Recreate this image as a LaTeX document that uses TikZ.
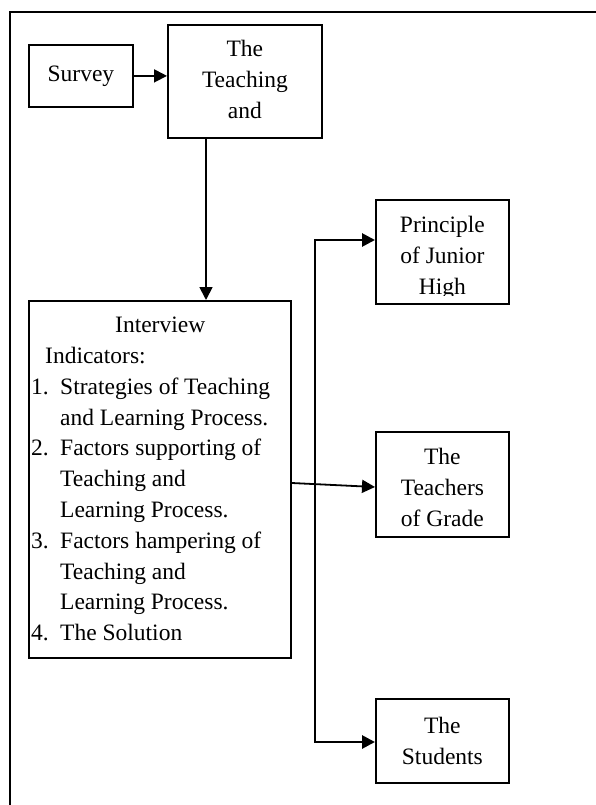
\documentclass[tikz,border=0pt]{standalone}
\usepackage{fontspec}
\setmainfont{Liberation Serif}
\usetikzlibrary{arrows.meta}
\begin{document}
\begin{tikzpicture}[x=1pt,y=-1pt,
 box/.style={draw,line width=1.8pt,inner sep=0pt,anchor=north west},
 lbl/.style={inner sep=0pt,align=center,font=\fontsize{23.5}{31}\selectfont},
 tip/.tip={Triangle[length=13pt,width=13pt]},
 arr/.style={line width=1.8pt,-tip},
 bus/.style={line width=2.8pt,tip-tip}]
\useasboundingbox (0,0) rectangle (596,805);
\coordinate (fbl) at (9.5,805);
\coordinate (ftl) at (9.5,12);
\coordinate (ftr) at (596,12);
\draw[line width=2pt] (fbl) -- (ftl) -- (ftr);
% boxes
\node[box,minimum width=104pt,minimum height=62pt,font=\fontsize{23.5}{31}\selectfont] (survey) at (28,44) {Survey};
\node[box,minimum width=154pt,minimum height=113pt] (teach) at (167,24) {};
\node[lbl,anchor=north] (teacht) at (teach.north |- 0,40) {The\\Teaching\\and};
\node[box,minimum width=133pt,minimum height=104pt] (principle) at (375,199) {};
\begin{scope}
\clip (principle.north west) rectangle ([yshift=9pt]principle.south east);
\node[lbl,anchor=north] (principlet) at (principle.north |- 0,216) {Principle\\of Junior\\High};
\end{scope}
\node[box,minimum width=133pt,minimum height=105pt] (teachers) at (375,431) {};
\begin{scope}
\clip (teachers.north west) rectangle ([yshift=10pt]teachers.south east);
\node[lbl,anchor=north] (teacherst) at (teachers.north |- 0,448) {The\\Teachers\\of Grade};
\end{scope}
\node[box,minimum width=133pt,minimum height=84pt] (students) at (375,698) {};
\node[lbl,anchor=north] (studentst) at (students.north |- 0,717) {The\\Students};
\node[box,minimum width=262pt,minimum height=357pt] (interview) at (28,300) {};
\node[inner sep=0pt,anchor=north west,font=\fontsize{23.5}{30.8}\selectfont] (interviewt) at (31,311)
 {\begin{tabular}{@{}p{29pt}@{}l@{}}
 \multicolumn{2}{@{}l@{}}{\hspace{84pt}Interview}\\
 \multicolumn{2}{@{}l@{}}{\hspace{14pt}Indicators:}\\
 1. & Strategies of Teaching\\
    & and Learning Process.\\
 2. & Factors supporting of\\
    & Teaching and\\
    & Learning Process.\\
 3. & Factors hampering of\\
    & Teaching and\\
    & Learning Process.\\
 4. & The Solution
 \end{tabular}};
% connectors
\coordinate (down) at (206,0);
\coordinate (bustop) at (315,240);
\coordinate (busbot) at (315,742);
\draw[arr] (survey.east) -- (teach.west |- survey.east);
\draw[arr] (teach.south -| down) -- (interview.north -| down);
\draw[bus] (principle.west |- bustop) -- (bustop) -- (busbot) -- (students.west |- busbot);
\draw[arr] (interview.east |- 0,483) -- (teachers.west |- 0,487);
\end{tikzpicture}
\end{document}
